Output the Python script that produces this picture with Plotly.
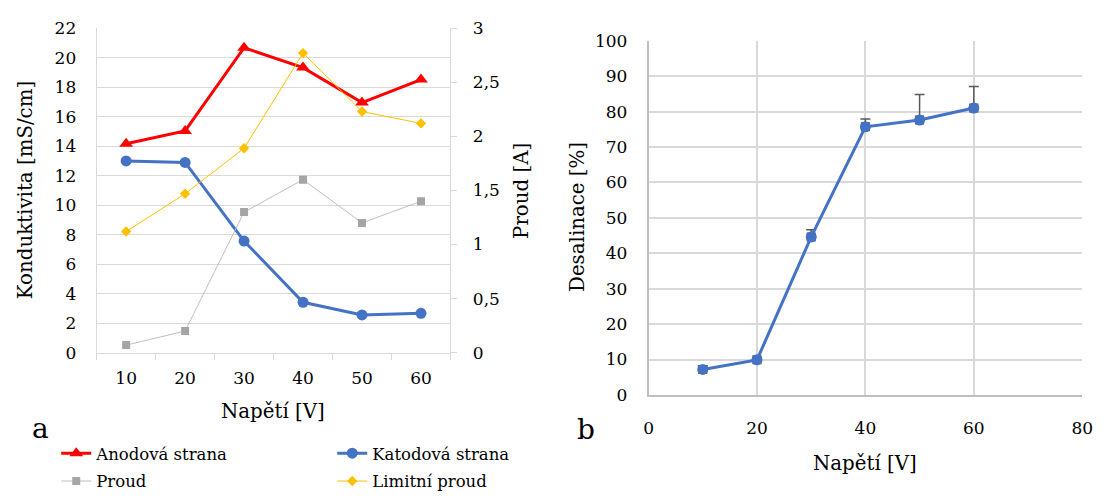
import plotly.graph_objects as go

# Panel a: conductivity and current vs. voltage
napeti = [10, 20, 30, 40, 50, 60]
anodova = [14.17, 15.04, 20.68, 19.33, 16.96, 18.52]
katodova = [13.0, 12.9, 7.57, 3.42, 2.56, 2.67]
proud = [0.07, 0.20, 1.30, 1.60, 1.20, 1.40]
limitni_proud = [1.12, 1.47, 1.89, 2.77, 2.23, 2.12]

# Panel b: desalination vs. voltage (plus-only error bars)
napeti_b = [10, 20, 30, 40, 50, 60]
desalinace = [7.2, 9.9, 44.6, 75.7, 77.6, 81.0]
desalinace_err = [1.0, 0.6, 2.0, 2.2, 7.2, 6.1]

W, H = 1107, 499
FONT = "DejaVu Serif"
GRID = "#d9d9d9"


def px_x(p):
    return p / W


def px_y(p):
    return 1 - p / H


fig = go.Figure()

fig.add_trace(go.Scatter(
    x=napeti, y=anodova, name="Anodová strana", mode="lines+markers",
    line=dict(color="#ff0000", width=3),
    marker=dict(symbol="triangle-up", size=12, color="#ff0000"),
    xaxis="x", yaxis="y", legend="legend"))
fig.add_trace(go.Scatter(
    x=napeti, y=katodova, name="Katodová strana", mode="lines+markers",
    line=dict(color="#4472c4", width=3),
    marker=dict(symbol="circle", size=11, color="#4472c4"),
    xaxis="x", yaxis="y", legend="legend"))
fig.add_trace(go.Scatter(
    x=napeti, y=proud, name="Proud", mode="lines+markers",
    line=dict(color="#bfbfbf", width=1),
    marker=dict(symbol="square", size=8, color="#a5a5a5"),
    xaxis="x", yaxis="y2", legend="legend2"))
fig.add_trace(go.Scatter(
    x=napeti, y=limitni_proud, name="Limitní proud", mode="lines+markers",
    line=dict(color="#ffc000", width=1),
    marker=dict(symbol="diamond", size=8, color="#ffc000"),
    xaxis="x", yaxis="y2", legend="legend2"))

# error bars with dark square points underneath the blue series
fig.add_trace(go.Scatter(
    x=napeti_b, y=desalinace, mode="markers", showlegend=False,
    marker=dict(symbol="square", size=9, color="#404040"),
    error_y=dict(type="data", array=desalinace_err,
                 arrayminus=[0] * len(desalinace_err), symmetric=False,
                 color="#595959", thickness=1.5, width=5),
    xaxis="x3", yaxis="y3"))
fig.add_trace(go.Scatter(
    x=napeti_b, y=desalinace, mode="lines+markers", showlegend=False,
    line=dict(color="#4472c4", width=3),
    marker=dict(symbol="circle", size=11, color="#4472c4"),
    xaxis="x3", yaxis="y3"))

tickfont = dict(family=FONT, size=17, color="#000000")
legend_common = dict(
    orientation="h", xanchor="left", yanchor="middle",
    entrywidth=231, entrywidthmode="pixels",
    font=dict(family=FONT, size=16.5, color="#000000"),
    bgcolor="rgba(0,0,0,0)", traceorder="normal")

fig.update_layout(
    width=W, height=H,
    margin=dict(l=0, r=0, t=0, b=0),
    paper_bgcolor="white", plot_bgcolor="white",
    separators=", ",
    font=dict(family=FONT, color="#000000"),
    xaxis=dict(
        domain=[px_x(93), px_x(452)], anchor="y",
        type="category", range=[-0.5, 5.5],
        tickson="boundaries", ticks="outside", ticklen=6, tickcolor=GRID,
        showline=True, linecolor=GRID, linewidth=1,
        showgrid=False, tickfont=tickfont, ticklabelstandoff=10),
    yaxis=dict(
        domain=[px_y(357), px_y(19)], anchor="x",
        range=[0, 22], dtick=2, showgrid=True, gridcolor=GRID, gridwidth=1,
        zeroline=False, showline=True, linecolor=GRID,
        ticks="", tickfont=tickfont, ticklabelstandoff=16),
    yaxis2=dict(
        overlaying="y", side="right", anchor="x",
        range=[0, 3], dtick=0.5, showgrid=False, zeroline=False,
        showline=True, linecolor=GRID, ticks="outside", ticklen=6,
        tickcolor=GRID, tickfont=tickfont, ticklabelstandoff=12),
    xaxis3=dict(
        domain=[px_x(653), px_x(1093)], anchor="y3",
        range=[0, 80], dtick=20, showgrid=True, gridcolor=GRID, gridwidth=1.5,
        zeroline=False, showline=True, linecolor="#bfbfbf", linewidth=1.5,
        ticks="", tickfont=tickfont, ticklabelstandoff=17),
    yaxis3=dict(
        domain=[px_y(401), px_y(32)], anchor="x3",
        range=[0, 100], dtick=10, showgrid=True, gridcolor=GRID, gridwidth=1.5,
        zeroline=False, showline=True, linecolor="#bfbfbf", linewidth=1.5,
        ticks="", tickfont=tickfont, ticklabelstandoff=16),
    legend=dict(x=px_x(52), y=px_y(462), **legend_common),
    legend2=dict(x=px_x(52), y=px_y(491), **legend_common),
)

title_font = dict(family=FONT, size=19.8, color="#000000")
annotations = [
    dict(text="Konduktivita [mS/cm]", x=px_x(21), y=px_y(188), textangle=-90),
    dict(text="Proud [A]", x=px_x(524), y=px_y(188), textangle=-90),
    dict(text="Napětí [V]", x=px_x(272), y=px_y(418)),
    dict(text="Desalinace [%]", x=px_x(581), y=px_y(216), textangle=-90),
    dict(text="Napětí [V]", x=px_x(873), y=px_y(472)),
]
for a in annotations:
    fig.add_annotation(xref="paper", yref="paper", showarrow=False,
                       xanchor="center", yanchor="middle", font=title_font, **a)

for letter, lx, ly in [("a", 36, 436), ("b", 590, 437)]:
    fig.add_annotation(text=letter, xref="paper", yref="paper",
                       x=px_x(lx), y=px_y(ly), showarrow=False,
                       xanchor="center", yanchor="middle",
                       font=dict(family=FONT, size=28, color="#000000"))

fig.write_html("out.html")
